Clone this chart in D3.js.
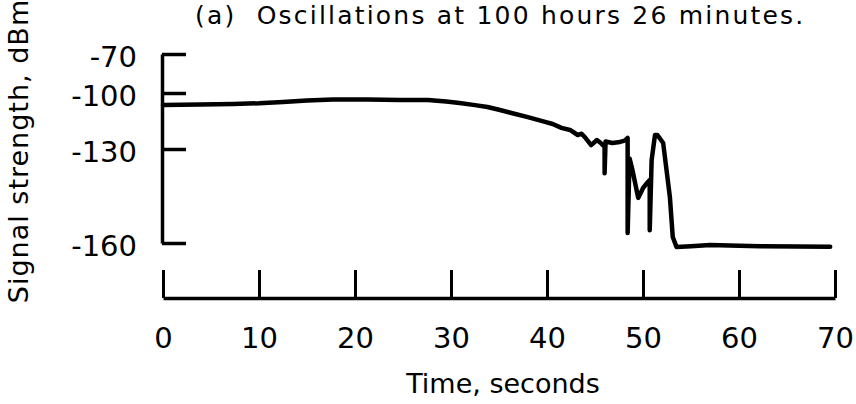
<!DOCTYPE html>
<html>
<head>
<meta charset="utf-8">
<script src="https://cdn.jsdelivr.net/npm/d3@7"></script>
<style>
  html, body { margin: 0; padding: 0; background: #fff; }
  svg text { font-family: "DejaVu Sans", sans-serif; fill: #000; }
</style>
</head>
<body>
<svg id="chart" width="856" height="404"></svg>
<script>
// ---- data ----
const titleText = "(a)  Oscillations at 100 hours 26 minutes.";
const xLabel = "Time, seconds";
const yLabel = "Signal strength, dBm";
const xTicks = [0, 10, 20, 30, 40, 50, 60, 70];
const yTicks = [-70, -100, -130, -160];
const timeSec = [0, 3.9, 7.3, 10, 12.5, 15, 17.7, 21.3, 24.7, 27.6, 29.5, 30.9, 32.5, 33.8, 35, 36.3, 38, 39.8, 40.6, 41.5, 42.4, 43.2, 43.6, 44.0, 44.6, 45.2, 45.6, 46.0, 46.0, 46.1, 46.8, 47.6, 48.1, 48.4, 48.4, 48.6, 48.9, 49.5, 50.0, 50.4, 50.7, 50.7, 50.9, 51.25, 51.5, 52.1, 52.8, 53.1, 53.5, 55, 57, 60, 62.2, 66, 69.5];
const signalDbm = [-106.4, -106.2, -105.9, -105.5, -104.8, -104.0, -103.5, -103.5, -103.7, -103.7, -104.6, -105.4, -106.5, -107.5, -109.0, -110.7, -112.9, -115.5, -116.6, -118.7, -119.8, -122.5, -121.8, -124.0, -127.9, -125.2, -126.8, -128.9, -137.7, -126.0, -126.8, -126.2, -125.5, -124.1, -156.8, -133.0, -136.7, -145.6, -142.5, -140.9, -139.9, -155.9, -133.5, -122.5, -122.5, -126.8, -145.3, -158.1, -161.3, -161.0, -160.6, -160.9, -161.0, -161.1, -161.2];

// ---- layout ----
const svg = d3.select("#chart");
const x = d3.scaleLinear().domain([0, 70]).range([163, 835]);
// recorder scale is non-linear: piecewise-linear through the tick positions
const y = d3.scaleLinear().domain([-70, -100, -130, -160]).range([54, 93, 149, 243]);

// title
svg.append("text")
  .attr("x", 195).attr("y", 24)
  .attr("font-size", 25)
  .attr("letter-spacing", 2.2)
  .attr("xml:space", "preserve")
  .style("white-space", "pre")
  .text(titleText);

// y axis
const yAxis = svg.append("g")
  .attr("transform", "translate(162,0)")
  .call(d3.axisLeft(y).tickValues(yTicks).tickFormat(d => String(d))
    .tickSizeInner(-24).tickSizeOuter(0).tickPadding(25));
yAxis.select(".domain").attr("stroke", "#000").attr("stroke-width", 3.5);
yAxis.selectAll(".tick line").attr("stroke", "#000").attr("stroke-width", 3.5);
yAxis.selectAll(".tick text").attr("font-size", 29).attr("font-family", "DejaVu Sans")
  .attr("dy", "0.42em");

// x axis
const xAxis = svg.append("g")
  .attr("transform", "translate(0,298)")
  .call(d3.axisBottom(x).tickValues(xTicks).tickFormat(d => String(d))
    .tickSizeInner(-28).tickSizeOuter(0).tickPadding(29));
xAxis.select(".domain").attr("stroke", "#000").attr("stroke-width", 3.5);
xAxis.selectAll(".tick line").attr("stroke", "#000").attr("stroke-width", 3);
xAxis.selectAll(".tick text").attr("font-size", 29).attr("font-family", "DejaVu Sans");

// axis titles
svg.append("text")
  .attr("x", 503).attr("y", 393)
  .attr("text-anchor", "middle")
  .attr("font-size", 27)
  .text(xLabel);

svg.append("text")
  .attr("transform", "translate(28,151) rotate(-90)")
  .attr("text-anchor", "middle")
  .attr("font-size", 27)
  .attr("letter-spacing", 1)
  .text(yLabel);

// signal trace
const pts = timeSec.map((t, i) => [t, signalDbm[i]]);
svg.append("path")
  .datum(pts)
  .attr("fill", "none")
  .attr("stroke", "#000")
  .attr("stroke-width", 4.5)
  .attr("stroke-linejoin", "round")
  .attr("stroke-linecap", "round")
  .attr("d", d3.line().x(d => x(d[0])).y(d => y(d[1])));
</script>
</body>
</html>
